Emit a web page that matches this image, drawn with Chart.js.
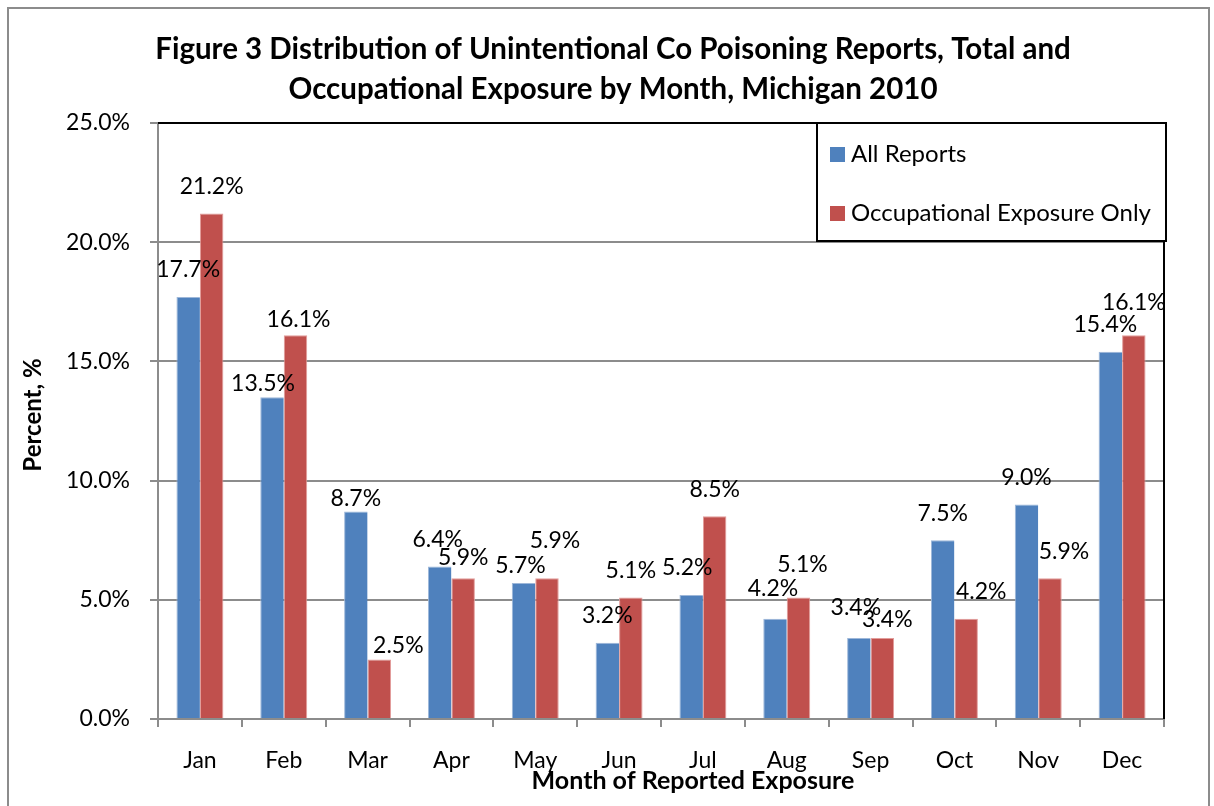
<!DOCTYPE html>
<html lang="en">
<head>
  <meta charset="UTF-8" />
  <title>Unintentional CO Poisoning by Month, Michigan 2010</title>
  <script src="https://cdn.jsdelivr.net/npm/chart.js"></script>
  <style>
    html, body { margin: 0; padding: 0; background: #fff; }
    #wrap { width: 1214px; height: 806px; position: relative; }
  </style>
</head>
<body>
  <div id="wrap"><canvas id="chart"></canvas></div>

  <script>
    const months = ['Jan', 'Feb', 'Mar', 'Apr', 'May', 'Jun', 'Jul', 'Aug', 'Sep', 'Oct', 'Nov', 'Dec'];
    const allReports = [17.7, 13.5, 8.7, 6.4, 5.7, 3.2, 5.2, 4.2, 3.4, 7.5, 9.0, 15.4];
    const occupational = [21.2, 16.1, 2.5, 5.9, 5.9, 5.1, 8.5, 5.1, 3.4, 4.2, 5.9, 16.1];
    const titleLines = [
      'Figure 3 Distribution of Unintentional Co Poisoning Reports, Total and',
      'Occupational Exposure by Month, Michigan 2010'
    ];

    const FONT = 'Lato, "Open Sans", sans-serif';
    const BLUE = '#4F81BD';
    const RED = '#C0504D';

    // labels that were dragged by hand in the original, as [dx, dy] from the default spot
    const labelNudge = {
      '0:1': [-9, 13], '1:1': [3, 11],
      '0:2': [0, 14], '1:2': [19, 13],
      '0:3': [-2, 0], '1:3': [0, 6],
      '0:4': [-3, 9], '1:4': [8, -11],
      '0:6': [-4, 0],
      '0:7': [-2, -3], '1:7': [4, -6],
      '0:8': [-3, -3], '1:8': [5, 9],
      '1:9': [15, 0],
      '1:10': [14, 0],
      '0:11': [-5, 0], '1:11': [0, -6]
    };

    // value labels, title, axis titles, legend box and frame
    const decorations = {
      id: 'decorations',
      afterDatasetsDraw(chart) {
        const ctx = chart.ctx;
        const area = chart.chartArea;
        ctx.save();

        // plot border top / right
        ctx.strokeStyle = '#000';
        ctx.lineWidth = 2;
        ctx.beginPath();
        ctx.moveTo(area.left, area.top);
        ctx.lineTo(area.right, area.top);
        ctx.lineTo(area.right, area.bottom);
        ctx.stroke();

        // data labels
        ctx.fillStyle = '#000';
        ctx.font = '23px ' + FONT;
        ctx.textAlign = 'center';
        ctx.textBaseline = 'middle';
        chart.data.datasets.forEach((ds, i) => {
          chart.getDatasetMeta(i).data.forEach((bar, j) => {
            const [dx, dy] = labelNudge[i + ':' + j] || [0, 0];
            ctx.fillText(ds.data[j].toFixed(1) + '%', bar.x + dx, bar.y - 27 + dy);
          });
        });

        // legend
        const lx = 817, ly = 123, lw = 349, lh = 118;
        ctx.fillStyle = '#fff';
        ctx.fillRect(lx, ly, lw, lh);
        ctx.strokeStyle = '#000';
        ctx.lineWidth = 2;
        ctx.strokeRect(lx, ly, lw, lh);
        ctx.font = '24px ' + FONT;
        ctx.textAlign = 'left';
        chart.data.datasets.forEach((ds, i) => {
          const cy = ly + 31 + i * 59;
          ctx.fillStyle = ds.backgroundColor;
          ctx.fillRect(lx + 13, cy - 7, 15, 15);
          ctx.fillStyle = '#000';
          ctx.fillText(ds.label, lx + 34, cy);
        });

        // title
        ctx.font = 'bold 29.5px ' + FONT;
        ctx.textAlign = 'center';
        titleLines.forEach((t, i) => ctx.fillText(t, 613, 49 + i * 40));

        // axis titles
        ctx.font = 'bold 25px ' + FONT;
        ctx.fillText('Month of Reported Exposure', 693, 781);
        ctx.font = 'bold 24px ' + FONT;
        ctx.translate(33, 415);
        ctx.rotate(-Math.PI / 2);
        ctx.fillText('Percent, %', 0, 0);
        ctx.setTransform(1, 0, 0, 1, 0, 0);

        // outer frame
        ctx.strokeStyle = '#8c8c8c';
        ctx.lineWidth = 2;
        ctx.strokeRect(8, 8, 1201, 820);
        ctx.restore();
      }
    };

    new Chart(document.getElementById('chart'), {
      type: 'bar',
      data: {
        labels: months,
        datasets: [
          { label: 'All Reports', data: allReports, backgroundColor: BLUE, borderColor: '#9db7d9', borderWidth: { left: 1, right: 0, top: 1, bottom: 0 } },
          { label: 'Occupational Exposure Only', data: occupational, backgroundColor: RED, borderColor: '#e29c9a', borderWidth: { left: 1, right: 1, top: 1, bottom: 0 } }
        ]
      },
      options: {
        responsive: true,
        maintainAspectRatio: false,
        animation: false,
        layout: { padding: { left: 0, top: 123, right: 50, bottom: 0 } },
        datasets: { bar: { categoryPercentage: 0.56, barPercentage: 1.0 } },
        plugins: {
          legend: { display: false },
          title: { display: false },
          tooltip: { enabled: false }
        },
        scales: {
          x: {
            afterFit: s => { s.height = 87; },
            grid: { offset: true, drawOnChartArea: false, color: '#8c8c8c', lineWidth: 2, tickLength: 8 },
            border: { color: '#8c8c8c', width: 2 },
            ticks: { color: '#000', font: { family: FONT, size: 23 }, padding: 20, maxRotation: 0 }
          },
          y: {
            min: 0,
            max: 25,
            afterFit: s => { s.width = 158; },
            grid: { color: '#8c8c8c', lineWidth: 2, tickLength: 8 },
            border: { color: '#8c8c8c', width: 2 },
            ticks: {
              stepSize: 5,
              color: '#000',
              font: { family: FONT, size: 23 },
              padding: 20,
              callback: v => v.toFixed(1) + '%'
            }
          }
        }
      },
      plugins: [decorations]
    });
  </script>
</body>
</html>
